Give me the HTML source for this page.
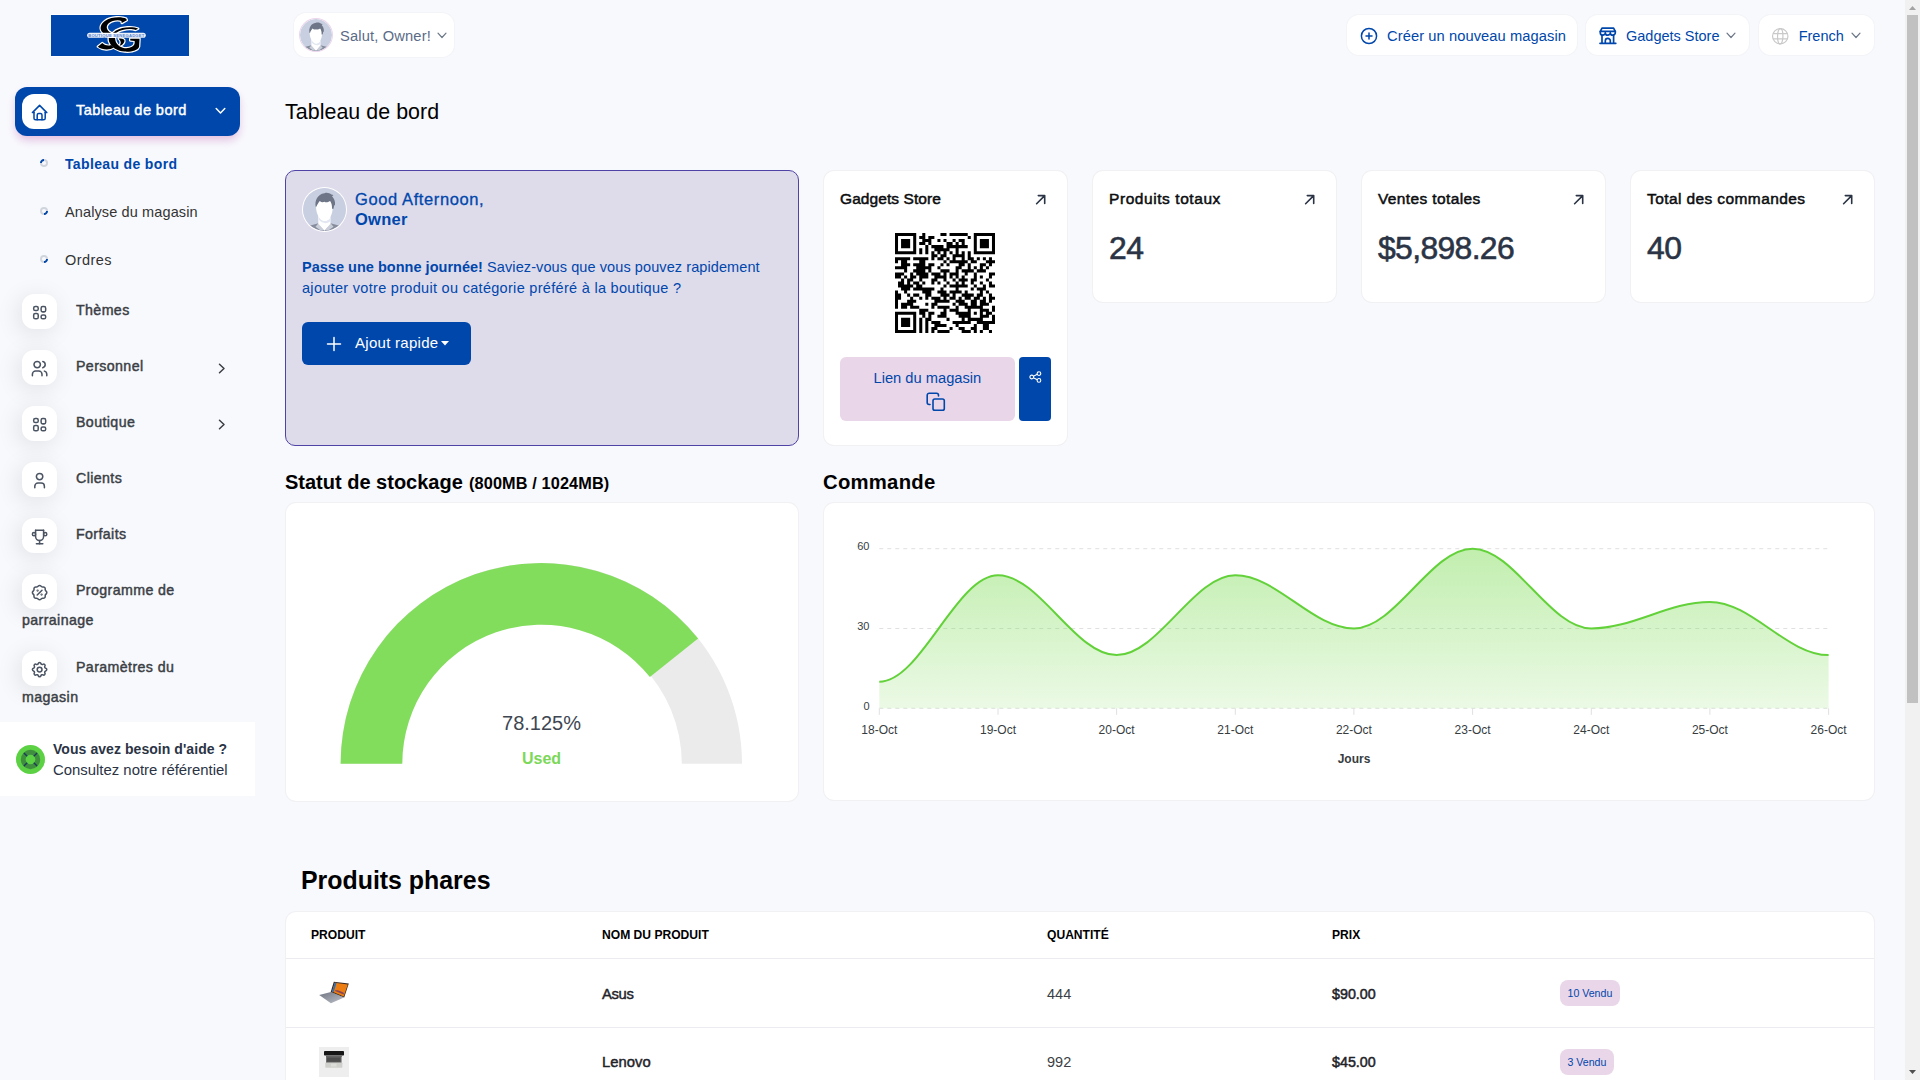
<!DOCTYPE html>
<html lang="fr">
<head>
<meta charset="utf-8">
<title>Tableau de bord</title>
<style>
*{box-sizing:border-box;margin:0;padding:0}
html,body{width:1920px;height:1080px;overflow:hidden}
body{background:#f8f9fd;font-family:"Liberation Sans",sans-serif;color:#333;position:relative}
.abs{position:absolute}
.t{position:absolute;white-space:nowrap;line-height:1}
.card{position:absolute;background:#fff;border-radius:10px;box-shadow:0 0 0 1px #f1f1f4}
.blue{color:#0047ab}
.b{font-weight:700}
/* sidebar */
#logo{left:51px;top:15px;width:138px;height:41px;background:#0047ab}
#navact{left:15px;top:87px;width:225px;height:49px;border-radius:12px;background:#0047ab;box-shadow:0 5px 8px -1px rgba(200,120,190,.45)}
.ib{position:absolute;left:22px;width:35px;height:35px;border-radius:12px;background:#fff;box-shadow:-3px 4px 23px rgba(0,0,0,.1)}
.ib svg{position:absolute;left:8.100px;top:9.200px;width:19.200px;height:19.200px;fill:none;stroke:#4b5463;stroke-width:1.900;stroke-linecap:round;stroke-linejoin:round}
.nav{font-size:14.200px;font-weight:400;letter-spacing:.4px;color:#3b3f45;left:76px;-webkit-text-stroke:.45px #3b3f45;margin-top:1px}
.sub{font-size:14.5px;color:#333;left:65px}
.dot{position:absolute;left:40px;width:8px;height:8px}
#help{left:0;top:722px;width:255px;height:74px;background:#fff}
/* header */
.pill{position:absolute;background:#fff;border-radius:12px;box-shadow:0 0 0 1px rgba(240,240,245,.6)}
/* scrollbar */
#sb{left:1905px;top:0;width:15px;height:1080px;background:#f1f1f1}
#sbt{left:1907px;top:15px;width:11px;height:688px;background:#c1c1c1}
</style>
</head>
<body>

<!-- ============ SIDEBAR ============ -->
<div class="abs" style="left:51px;top:14px;width:138px;height:43px;background:#fff"></div>
<div class="abs" id="logo"></div>
<svg class="abs" style="left:51px;top:15px" width="138" height="41" viewBox="51 15 138 41"><g transform="translate(80 12) scale(.04444)"><g fill="#fff" stroke="#fff" stroke-width="55" stroke-linejoin="round"><path d="M1040 150C950 100 700 100 560 200C440 290 440 400 520 470L700 470C600 420 570 330 640 260C720 190 850 170 930 200L940 250L1055 185Z"/><path d="M1310 375C1200 325 950 330 800 420L740 470L810 470C950 375 1150 365 1250 405Z"/><path d="M1340 600L1330 780C1300 870 1150 900 1000 890C850 880 700 800 650 650L645 585L790 585C790 680 850 780 980 810C1100 830 1220 790 1230 700L1230 650L1130 640L1130 600Z"/><path d="M400 780L500 700C560 760 650 770 700 740L760 800C680 860 500 860 400 780Z"/><path d="M870 600C960 590 1010 620 1000 660C990 710 940 750 890 760C930 700 930 650 870 600Z"/></g><g fill="#000"><path d="M1040 150C950 100 700 100 560 200C440 290 440 400 520 470L700 470C600 420 570 330 640 260C720 190 850 170 930 200L940 250L1055 185Z"/><path d="M1310 375C1200 325 950 330 800 420L740 470L810 470C950 375 1150 365 1250 405Z"/><path d="M1340 600L1330 780C1300 870 1150 900 1000 890C850 880 700 800 650 650L645 585L790 585C790 680 850 780 980 810C1100 830 1220 790 1230 700L1230 650L1130 640L1130 600Z"/><path d="M400 780L500 700C560 760 650 770 700 740L760 800C680 860 500 860 400 780Z"/><path d="M870 600C960 590 1010 620 1000 660C990 710 940 750 890 760C930 700 930 650 870 600Z"/></g><rect x="160" y="468" width="1320" height="114" rx="57" fill="#fff" fill-opacity=".93"/></g><text x="88.200" y="36.900" font-family="Liberation Sans" font-weight="700" font-size="4.200" letter-spacing=".2" fill="#5b86d0">BOUTIQUE SENEGADGET</text></svg>
<div class="abs" id="navact"></div>
<div class="ib" style="top:94px;box-shadow:none"><svg viewBox="0 0 24 24" style="stroke:#0047ab"><path d="M5 12H3l9-9 9 9h-2"/><path d="M5 12v7a2 2 0 0 0 2 2h10a2 2 0 0 0 2-2v-7"/><path d="M9 21v-6a2 2 0 0 1 2-2h2a2 2 0 0 1 2 2v6"/></svg></div>
<span class="t" style="left:76px;top:102.500px;font-size:14.600px;letter-spacing:.4px;color:#fff;-webkit-text-stroke:.45px #fff">Tableau de bord</span>
<svg class="abs" style="left:215px;top:107px" width="11" height="8" viewBox="0 0 11 8" fill="none" stroke="#fff" stroke-width="1.5" stroke-linecap="round" stroke-linejoin="round"><path d="M1.200 1.500 5.500 6 9.800 1.500"/></svg>

<svg class="dot" style="top:159px" viewBox="0 0 8 8" fill="none" stroke-width="1.900"><circle cx="4" cy="4" r="3.050" stroke="#d0d5dd"/><path d="M.95 4A3.050 3.050 0 0 1 4 .95" stroke="#0047ab"/></svg>
<span class="t b sub blue" style="top:157px;font-size:14px;letter-spacing:.35px;color:#0047ab">Tableau de bord</span>
<svg class="dot" style="top:207px" viewBox="0 0 8 8" fill="none" stroke-width="1.900"><circle cx="4" cy="4" r="3.050" stroke="#d0d5dd"/><path d="M7.050 4A3.050 3.050 0 0 1 4 7.050" stroke="#0047ab"/></svg>
<span class="t sub" style="top:205px;letter-spacing:.12px">Analyse du magasin</span>
<svg class="dot" style="top:255px" viewBox="0 0 8 8" fill="none" stroke-width="1.900"><circle cx="4" cy="4" r="3.050" stroke="#d0d5dd"/><path d="M7.050 4A3.050 3.050 0 0 1 4 7.050" stroke="#0047ab"/></svg>
<span class="t sub" style="top:253px;letter-spacing:.45px">Ordres</span>

<div class="ib" style="top:294px"><svg viewBox="0 0 24 24"><rect x="4.600" y="4.500" width="5.700" height="4.900" rx="2"/><rect x="13.900" y="4.500" width="5.700" height="6.600" rx="2"/><rect x="4.600" y="13.100" width="5.700" height="6.600" rx="2"/><rect x="13.900" y="14.900" width="5.700" height="4.800" rx="2"/></svg></div>
<span class="t nav" style="top:302px">Thèmes</span>
<div class="ib" style="top:350px"><svg viewBox="0 0 24 24"><circle cx="9" cy="7" r="4"/><path d="M3 21v-2a4 4 0 0 1 4-4h4a4 4 0 0 1 4 4v2"/><path d="M16 3.130a4 4 0 0 1 0 7.750"/><path d="M21 21v-2a4 4 0 0 0-3-3.850"/></svg></div>
<span class="t nav" style="top:358px">Personnel</span>
<svg class="abs" style="left:218.200px;top:363.200px" width="8" height="11" viewBox="0 0 8 11" fill="none" stroke="#3b3f45" stroke-width="1.500" stroke-linecap="round" stroke-linejoin="round"><path d="M1.500 1.200 6 5.500 1.500 9.800"/></svg>
<div class="ib" style="top:406px"><svg viewBox="0 0 24 24"><rect x="4.600" y="4.500" width="5.700" height="4.900" rx="2"/><rect x="13.900" y="4.500" width="5.700" height="6.600" rx="2"/><rect x="4.600" y="13.100" width="5.700" height="6.600" rx="2"/><rect x="13.900" y="14.900" width="5.700" height="4.800" rx="2"/></svg></div>
<span class="t nav" style="top:414px">Boutique</span>
<svg class="abs" style="left:218.200px;top:419.200px" width="8" height="11" viewBox="0 0 8 11" fill="none" stroke="#3b3f45" stroke-width="1.500" stroke-linecap="round" stroke-linejoin="round"><path d="M1.500 1.200 6 5.500 1.500 9.800"/></svg>
<div class="ib" style="top:462px"><svg viewBox="0 0 24 24"><circle cx="12" cy="7" r="4"/><path d="M6 21v-2a4 4 0 0 1 4-4h4a4 4 0 0 1 4 4v2"/></svg></div>
<span class="t nav" style="top:470px">Clients</span>
<div class="ib" style="top:518px"><svg viewBox="0 0 24 24"><path d="M8 21h8"/><path d="M12 17v4"/><path d="M7 4h10"/><path d="M17 4v8a5 5 0 0 1-10 0V4"/><circle cx="5" cy="9" r="2"/><circle cx="19" cy="9" r="2"/></svg></div>
<span class="t nav" style="top:526px">Forfaits</span>
<div class="ib" style="top:574px"><svg viewBox="0 0 24 24"><path d="M9 15l6-6"/><circle cx="9.500" cy="9.500" r=".5" fill="#4b5463"/><circle cx="14.500" cy="14.500" r=".5" fill="#4b5463"/><path d="M5 7.200a2.200 2.200 0 0 1 2.200-2.200h1a2.200 2.200 0 0 0 1.550-.64l.7-.7a2.200 2.200 0 0 1 3.120 0l.7.7a2.200 2.200 0 0 0 1.550.64h1a2.200 2.200 0 0 1 2.200 2.200v1a2.200 2.200 0 0 0 .64 1.550l.7.7a2.200 2.200 0 0 1 0 3.120l-.7.7a2.200 2.200 0 0 0-.64 1.550v1a2.200 2.200 0 0 1-2.200 2.200h-1a2.200 2.200 0 0 0-1.550.64l-.7.7a2.200 2.200 0 0 1-3.120 0l-.7-.7a2.200 2.200 0 0 0-1.550-.64h-1a2.200 2.200 0 0 1-2.200-2.200v-1a2.200 2.200 0 0 0-.64-1.550l-.7-.7a2.200 2.200 0 0 1 0-3.120l.7-.7a2.200 2.200 0 0 0 .64-1.550z"/></svg></div>
<span class="t nav" style="top:582px">Programme de</span>
<span class="t nav" style="top:612px;left:22px">parrainage</span>
<div class="ib" style="top:651px"><svg viewBox="0 0 24 24"><path d="M10.325 4.317c.426-1.756 2.924-1.756 3.350 0a1.724 1.724 0 0 0 2.573 1.066c1.543-.94 3.310.826 2.370 2.370a1.724 1.724 0 0 0 1.065 2.572c1.756.426 1.756 2.924 0 3.350a1.724 1.724 0 0 0-1.066 2.573c.94 1.543-.826 3.310-2.370 2.370a1.724 1.724 0 0 0-2.572 1.065c-.426 1.756-2.924 1.756-3.350 0a1.724 1.724 0 0 0-2.573-1.066c-1.543.94-3.310-.826-2.370-2.370a1.724 1.724 0 0 0-1.065-2.572c-1.756-.426-1.756-2.924 0-3.350a1.724 1.724 0 0 0 1.066-2.573c-.94-1.543.826-3.310 2.370-2.370 1 .608 2.296.07 2.572-1.065z"/><circle cx="12" cy="12" r="3"/></svg></div>
<span class="t nav" style="top:659px">Paramètres du</span>
<span class="t nav" style="top:689px;left:22px">magasin</span>

<div class="abs" id="help"></div>
<svg class="abs" style="left:16px;top:744.500px" width="29" height="29" viewBox="0 0 30 30"><circle cx="15" cy="15" r="15" fill="#5bd143"/><circle cx="15" cy="15" r="10" fill="#3f8f3f"/><circle cx="15" cy="15" r="5" fill="#5bd143"/><path d="M8.200 8.200l3.400 3.400M21.800 8.200l-3.400 3.400M8.200 21.800l3.400-3.400M21.800 21.800l-3.400-3.400" stroke="#1d3a5c" stroke-width="1.400"/></svg>
<span class="t b" style="left:53px;top:742px;font-size:14px;letter-spacing:.06px;color:#2b3445">Vous avez besoin d'aide ?</span>
<span class="t" style="left:53px;top:762.500px;font-size:14.900px;color:#2b3445">Consultez notre référentiel</span>

<!-- ============ HEADER ============ -->
<div class="pill" style="left:294px;top:13px;width:160px;height:44px"></div>
<svg class="abs" style="left:300px;top:19px;border-radius:50%;box-shadow:0 0 0 1px #ecd5ec" width="32" height="32"><use href="#av"/></svg>
<span class="t" style="left:340px;top:29px;font-size:14.700px;letter-spacing:.15px;color:#5b6b86">Salut, Owner!</span>
<svg class="abs" style="left:437px;top:32px" width="10" height="7" viewBox="0 0 10 7" fill="none" stroke="#6b7686" stroke-width="1.200" stroke-linecap="round" stroke-linejoin="round"><path d="M1 1.200 5 5.500 9 1.200"/></svg>

<div class="pill" style="left:1347px;top:15px;width:230px;height:40px"></div>
<svg class="abs" style="left:1360px;top:27px" width="18" height="18" viewBox="0 0 18 18" fill="none" stroke="#0047ab" stroke-width="1.500" stroke-linecap="round"><circle cx="9" cy="9" r="7.600"/><path d="M9 6v6M6 9h6"/></svg>
<span class="t blue" style="left:1387px;top:29px;font-size:14.700px;letter-spacing:.08px">Créer un nouveau magasin</span>

<div class="pill" style="left:1586px;top:15px;width:163px;height:40px"></div>
<svg class="abs" style="left:1598px;top:26px" width="20" height="20" viewBox="1598 26 20 20" fill="none" stroke="#0047ab" stroke-width="1.700" stroke-linejoin="round" stroke-linecap="round"><path d="M1602 28.200h11.600l1.700 3.200h-15z"/><path d="M1600.300 31.400v1.300a2.500 2.500 0 0 0 5 0 2.500 2.500 0 0 0 5 0 2.500 2.500 0 0 0 5 0v-1.300"/><path d="M1602 35.200v8M1613.600 35.200v8"/><path d="M1605.300 43.200v-2.400a2.500 2.500 0 0 1 5 0v2.400"/><path d="M1600 43.300h15.800"/></svg>
<span class="t blue" style="left:1626px;top:29px;font-size:14.500px">Gadgets Store</span>
<svg class="abs" style="left:1726px;top:32px" width="10" height="7" viewBox="0 0 10 7" fill="none" stroke="#6b7686" stroke-width="1.200" stroke-linecap="round" stroke-linejoin="round"><path d="M1 1.200 5 5.500 9 1.200"/></svg>

<div class="pill" style="left:1759px;top:15px;width:115px;height:40px"></div>
<svg class="abs" style="left:1771px;top:26.500px" width="18.500" height="18.500" viewBox="-9.250 -9.250 18.500 18.500" fill="none" stroke="#c9c9c9" stroke-width="1.200"><circle r="7.700"/><ellipse rx="2.700" ry="7.700"/><path d="M-7.200-2.700h14.400M-7.200 2.700h14.400"/></svg>
<span class="t blue" style="left:1798.700px;top:29px;font-size:14.500px">French</span>
<svg class="abs" style="left:1851px;top:32px" width="10" height="7" viewBox="0 0 10 7" fill="none" stroke="#6b7686" stroke-width="1.200" stroke-linecap="round" stroke-linejoin="round"><path d="M1 1.200 5 5.500 9 1.200"/></svg>

<span class="t" style="left:285px;top:102px;font-size:21.400px;letter-spacing:.05px;color:#000">Tableau de bord</span>

<!-- ============ MAIN PLACEHOLDER ============ -->
<!--MAINSTART-->
<svg width="0" height="0" style="position:absolute"><defs>
<symbol id="av" viewBox="0 0 100 100">
<clipPath id="avc"><circle cx="50" cy="50" r="50"/></clipPath>
<g clip-path="url(#avc)">
<rect width="100" height="100" fill="#c8cfe0"/>
<path d="M17 87L36 82 50 99 64 82 83 87 92 100H8z" fill="#878d9d"/>
<path d="M29 90L36 82 48.500 98 42 99.500zM71 90L64 82 51.500 98 58 99.500z" fill="#c9ced9"/>
<path d="M35.600 60H63.900V83L50 99.500 35.600 83z" fill="#fff"/>
<path d="M37 66C44 78 56 80 63.900 69V77C56 85 44 82 37 74z" fill="#e3e7f1"/>
<path d="M31 32C29 45 31 55 34 62 38 72 45 77 50 77S62 72 66 62C69 55 70 45 68 32 60 26 40 26 31 32z" fill="#fff"/>
<path d="M29.500 43.500C27 30 33 14 50 12 56 10 62 12 66 15L71 16 67.500 19C72 24 75.500 30 74.500 40L72.500 40 71 48 67.500 48.500C68 40 66 34 63 30 58 33.500 53 34 50 32 46 34 42 33 39 30 36 34 33 38 31.500 43z" fill="#6e7587"/>
</g></symbol></defs></svg>
<div class="abs" style="left:285px;top:170px;width:514px;height:276px;background:#dedbeb;border:1px solid #4f44a5;border-radius:10px"></div>
<svg class="abs" style="left:303px;top:188px;border-radius:50%;box-shadow:0 0 0 1px #fff" width="43" height="43"><use href="#av"/></svg>
<span class="t blue" style="left:355px;top:191px;font-size:16.500px;letter-spacing:.6px;-webkit-text-stroke:.3px #0047ab">Good Afternoon,</span>
<span class="t blue b" style="left:355px;top:211px;font-size:16.500px;letter-spacing:.25px">Owner</span>
<span class="t blue" style="left:302px;top:260px;font-size:14.500px;letter-spacing:.09px"><b style="letter-spacing:.02px">Passe une bonne journée!</b> Saviez-vous que vous pouvez rapidement</span>
<span class="t blue" style="left:302px;top:281px;font-size:14.500px;letter-spacing:.3px">ajouter votre produit ou catégorie préféré à la boutique ?</span>
<div class="abs" style="left:302px;top:322px;width:169px;height:43px;border-radius:6px;background:#0047ab"></div>
<svg class="abs" style="left:326px;top:336px" width="16" height="16" viewBox="0 0 16 16" stroke="#fff" stroke-width="1.500" stroke-linecap="round"><path d="M8 1.500v13M1.500 8h13"/></svg>
<span class="t" style="left:355px;top:335px;font-size:15px;letter-spacing:.28px;color:#fff">Ajout rapide</span>
<svg class="abs" style="left:441px;top:341px" width="8" height="5" viewBox="0 0 8 5"><path d="M0 0h8L4 4.500z" fill="#fff"/></svg>
<div class="card" style="left:824px;top:171px;width:243px;height:274px"></div>
<span class="t sb" style="left:840px;top:190.500px;font-size:15.500px;letter-spacing:.08px;color:#0b0d10;-webkit-text-stroke:.5px #0b0d10">Gadgets Store</span>
<svg class="abs" style="left:1035.2px;top:193.600px" width="12" height="12" viewBox="0 0 12 12" fill="none" stroke="#2b3445" stroke-width="1.600" stroke-linecap="round" stroke-linejoin="round"><path d="M1.600 9.700 9.700 1.600M3.300 1.600H9.700V9.400"/></svg>
<svg class="abs" style="left:895px;top:233px" width="100" height="100" viewBox="0 0 100 100" shape-rendering="auto"><path d="M0.00 0.00h21.21v3.03h-21.21zM27.27 0.00h3.03v3.03h-3.03zM45.45 0.00h6.06v3.03h-6.06zM54.55 0.00h18.18v3.03h-18.18zM78.79 0.00h21.21v3.03h-21.21zM0.00 3.03h3.03v3.03h-3.03zM18.18 3.03h3.03v3.03h-3.03zM24.24 3.03h6.06v3.03h-6.06zM33.33 3.03h6.06v3.03h-6.06zM72.73 3.03h3.03v3.03h-3.03zM78.79 3.03h3.03v3.03h-3.03zM96.97 3.03h3.03v3.03h-3.03zM0.00 6.06h3.03v3.03h-3.03zM6.06 6.06h9.09v3.03h-9.09zM18.18 6.06h3.03v3.03h-3.03zM27.27 6.06h9.09v3.03h-9.09zM42.42 6.06h3.03v3.03h-3.03zM48.48 6.06h3.03v3.03h-3.03zM57.58 6.06h3.03v3.03h-3.03zM63.64 6.06h6.06v3.03h-6.06zM78.79 6.06h3.03v3.03h-3.03zM84.85 6.06h9.09v3.03h-9.09zM96.97 6.06h3.03v3.03h-3.03zM0.00 9.09h3.03v3.03h-3.03zM6.06 9.09h9.09v3.03h-9.09zM18.18 9.09h3.03v3.03h-3.03zM24.24 9.09h6.06v3.03h-6.06zM33.33 9.09h3.03v3.03h-3.03zM51.52 9.09h6.06v3.03h-6.06zM60.61 9.09h3.03v3.03h-3.03zM66.67 9.09h3.03v3.03h-3.03zM78.79 9.09h3.03v3.03h-3.03zM84.85 9.09h9.09v3.03h-9.09zM96.97 9.09h3.03v3.03h-3.03zM0.00 12.12h3.03v3.03h-3.03zM6.06 12.12h9.09v3.03h-9.09zM18.18 12.12h3.03v3.03h-3.03zM30.30 12.12h3.03v3.03h-3.03zM36.36 12.12h12.12v3.03h-12.12zM51.52 12.12h21.21v3.03h-21.21zM78.79 12.12h3.03v3.03h-3.03zM84.85 12.12h9.09v3.03h-9.09zM96.97 12.12h3.03v3.03h-3.03zM0.00 15.15h3.03v3.03h-3.03zM18.18 15.15h3.03v3.03h-3.03zM24.24 15.15h3.03v3.03h-3.03zM30.30 15.15h3.03v3.03h-3.03zM39.39 15.15h15.15v3.03h-15.15zM60.61 15.15h3.03v3.03h-3.03zM78.79 15.15h3.03v3.03h-3.03zM96.97 15.15h3.03v3.03h-3.03zM0.00 18.18h21.21v3.03h-21.21zM24.24 18.18h3.03v3.03h-3.03zM30.30 18.18h3.03v3.03h-3.03zM36.36 18.18h3.03v3.03h-3.03zM42.42 18.18h3.03v3.03h-3.03zM48.48 18.18h3.03v3.03h-3.03zM54.55 18.18h3.03v3.03h-3.03zM60.61 18.18h3.03v3.03h-3.03zM66.67 18.18h3.03v3.03h-3.03zM72.73 18.18h3.03v3.03h-3.03zM78.79 18.18h21.21v3.03h-21.21zM36.36 21.21h6.06v3.03h-6.06zM45.45 21.21h6.06v3.03h-6.06zM57.58 21.21h12.12v3.03h-12.12zM72.73 21.21h3.03v3.03h-3.03zM0.00 24.24h15.15v3.03h-15.15zM18.18 24.24h15.15v3.03h-15.15zM36.36 24.24h3.03v3.03h-3.03zM42.42 24.24h6.06v3.03h-6.06zM51.52 24.24h3.03v3.03h-3.03zM57.58 24.24h3.03v3.03h-3.03zM66.67 24.24h3.03v3.03h-3.03zM72.73 24.24h6.06v3.03h-6.06zM81.82 24.24h3.03v3.03h-3.03zM87.88 24.24h3.03v3.03h-3.03zM93.94 24.24h3.03v3.03h-3.03zM0.00 27.27h3.03v3.03h-3.03zM6.06 27.27h6.06v3.03h-6.06zM24.24 27.27h6.06v3.03h-6.06zM48.48 27.27h3.03v3.03h-3.03zM54.55 27.27h18.18v3.03h-18.18zM75.76 27.27h6.06v3.03h-6.06zM90.91 27.27h9.09v3.03h-9.09zM6.06 30.30h9.09v3.03h-9.09zM18.18 30.30h12.12v3.03h-12.12zM33.33 30.30h6.06v3.03h-6.06zM45.45 30.30h3.03v3.03h-3.03zM51.52 30.30h3.03v3.03h-3.03zM63.64 30.30h6.06v3.03h-6.06zM72.73 30.30h3.03v3.03h-3.03zM84.85 30.30h6.06v3.03h-6.06zM93.94 30.30h3.03v3.03h-3.03zM0.00 33.33h12.12v3.03h-12.12zM21.21 33.33h15.15v3.03h-15.15zM42.42 33.33h3.03v3.03h-3.03zM60.61 33.33h6.06v3.03h-6.06zM72.73 33.33h3.03v3.03h-3.03zM78.79 33.33h3.03v3.03h-3.03zM84.85 33.33h3.03v3.03h-3.03zM90.91 33.33h3.03v3.03h-3.03zM9.09 36.36h3.03v3.03h-3.03zM18.18 36.36h12.12v3.03h-12.12zM33.33 36.36h3.03v3.03h-3.03zM45.45 36.36h9.09v3.03h-9.09zM60.61 36.36h3.03v3.03h-3.03zM66.67 36.36h12.12v3.03h-12.12zM81.82 36.36h9.09v3.03h-9.09zM0.00 39.39h9.09v3.03h-9.09zM15.15 39.39h3.03v3.03h-3.03zM21.21 39.39h12.12v3.03h-12.12zM36.36 39.39h9.09v3.03h-9.09zM48.48 39.39h3.03v3.03h-3.03zM54.55 39.39h9.09v3.03h-9.09zM69.70 39.39h3.03v3.03h-3.03zM78.79 39.39h3.03v3.03h-3.03zM93.94 39.39h6.06v3.03h-6.06zM0.00 42.42h6.06v3.03h-6.06zM9.09 42.42h3.03v3.03h-3.03zM15.15 42.42h6.06v3.03h-6.06zM24.24 42.42h9.09v3.03h-9.09zM39.39 42.42h12.12v3.03h-12.12zM54.55 42.42h3.03v3.03h-3.03zM60.61 42.42h3.03v3.03h-3.03zM66.67 42.42h3.03v3.03h-3.03zM78.79 42.42h3.03v3.03h-3.03zM84.85 42.42h3.03v3.03h-3.03zM93.94 42.42h3.03v3.03h-3.03zM6.06 45.45h3.03v3.03h-3.03zM12.12 45.45h6.06v3.03h-6.06zM24.24 45.45h3.03v3.03h-3.03zM36.36 45.45h6.06v3.03h-6.06zM48.48 45.45h3.03v3.03h-3.03zM57.58 45.45h3.03v3.03h-3.03zM63.64 45.45h9.09v3.03h-9.09zM75.76 45.45h6.06v3.03h-6.06zM90.91 45.45h3.03v3.03h-3.03zM3.03 48.48h6.06v3.03h-6.06zM12.12 48.48h3.03v3.03h-3.03zM18.18 48.48h6.06v3.03h-6.06zM27.27 48.48h3.03v3.03h-3.03zM36.36 48.48h3.03v3.03h-3.03zM42.42 48.48h3.03v3.03h-3.03zM51.52 48.48h3.03v3.03h-3.03zM60.61 48.48h3.03v3.03h-3.03zM66.67 48.48h3.03v3.03h-3.03zM75.76 48.48h3.03v3.03h-3.03zM84.85 48.48h3.03v3.03h-3.03zM93.94 48.48h3.03v3.03h-3.03zM3.03 51.52h15.15v3.03h-15.15zM21.21 51.52h6.06v3.03h-6.06zM48.48 51.52h3.03v3.03h-3.03zM54.55 51.52h18.18v3.03h-18.18zM78.79 51.52h3.03v3.03h-3.03zM87.88 51.52h3.03v3.03h-3.03zM93.94 51.52h6.06v3.03h-6.06zM6.06 54.55h9.09v3.03h-9.09zM18.18 54.55h21.21v3.03h-21.21zM45.45 54.55h3.03v3.03h-3.03zM60.61 54.55h3.03v3.03h-3.03zM75.76 54.55h3.03v3.03h-3.03zM81.82 54.55h9.09v3.03h-9.09zM0.00 57.58h3.03v3.03h-3.03zM9.09 57.58h3.03v3.03h-3.03zM27.27 57.58h9.09v3.03h-9.09zM42.42 57.58h9.09v3.03h-9.09zM54.55 57.58h12.12v3.03h-12.12zM69.70 57.58h3.03v3.03h-3.03zM84.85 57.58h3.03v3.03h-3.03zM90.91 57.58h3.03v3.03h-3.03zM0.00 60.61h6.06v3.03h-6.06zM12.12 60.61h3.03v3.03h-3.03zM18.18 60.61h6.06v3.03h-6.06zM30.30 60.61h6.06v3.03h-6.06zM45.45 60.61h9.09v3.03h-9.09zM57.58 60.61h3.03v3.03h-3.03zM66.67 60.61h12.12v3.03h-12.12zM81.82 60.61h6.06v3.03h-6.06zM93.94 60.61h3.03v3.03h-3.03zM0.00 63.64h6.06v3.03h-6.06zM15.15 63.64h3.03v3.03h-3.03zM24.24 63.64h3.03v3.03h-3.03zM30.30 63.64h3.03v3.03h-3.03zM36.36 63.64h9.09v3.03h-9.09zM48.48 63.64h3.03v3.03h-3.03zM54.55 63.64h6.06v3.03h-6.06zM63.64 63.64h3.03v3.03h-3.03zM69.70 63.64h6.06v3.03h-6.06zM78.79 63.64h6.06v3.03h-6.06zM87.88 63.64h3.03v3.03h-3.03zM93.94 63.64h6.06v3.03h-6.06zM0.00 66.67h3.03v3.03h-3.03zM12.12 66.67h9.09v3.03h-9.09zM39.39 66.67h15.15v3.03h-15.15zM60.61 66.67h9.09v3.03h-9.09zM75.76 66.67h6.06v3.03h-6.06zM84.85 66.67h6.06v3.03h-6.06zM93.94 66.67h3.03v3.03h-3.03zM0.00 69.70h3.03v3.03h-3.03zM6.06 69.70h12.12v3.03h-12.12zM30.30 69.70h3.03v3.03h-3.03zM36.36 69.70h6.06v3.03h-6.06zM57.58 69.70h3.03v3.03h-3.03zM63.64 69.70h9.09v3.03h-9.09zM75.76 69.70h6.06v3.03h-6.06zM84.85 69.70h9.09v3.03h-9.09zM0.00 72.73h3.03v3.03h-3.03zM6.06 72.73h6.06v3.03h-6.06zM15.15 72.73h9.09v3.03h-9.09zM36.36 72.73h3.03v3.03h-3.03zM42.42 72.73h12.12v3.03h-12.12zM60.61 72.73h3.03v3.03h-3.03zM69.70 72.73h18.18v3.03h-18.18zM96.97 72.73h3.03v3.03h-3.03zM24.24 75.76h9.09v3.03h-9.09zM48.48 75.76h3.03v3.03h-3.03zM54.55 75.76h9.09v3.03h-9.09zM72.73 75.76h3.03v3.03h-3.03zM84.85 75.76h9.09v3.03h-9.09zM96.97 75.76h3.03v3.03h-3.03zM0.00 78.79h21.21v3.03h-21.21zM24.24 78.79h6.06v3.03h-6.06zM33.33 78.79h6.06v3.03h-6.06zM45.45 78.79h6.06v3.03h-6.06zM60.61 78.79h15.15v3.03h-15.15zM78.79 78.79h3.03v3.03h-3.03zM84.85 78.79h3.03v3.03h-3.03zM90.91 78.79h6.06v3.03h-6.06zM0.00 81.82h3.03v3.03h-3.03zM18.18 81.82h3.03v3.03h-3.03zM27.27 81.82h3.03v3.03h-3.03zM33.33 81.82h3.03v3.03h-3.03zM42.42 81.82h9.09v3.03h-9.09zM63.64 81.82h12.12v3.03h-12.12zM84.85 81.82h9.09v3.03h-9.09zM96.97 81.82h3.03v3.03h-3.03zM0.00 84.85h3.03v3.03h-3.03zM6.06 84.85h9.09v3.03h-9.09zM18.18 84.85h3.03v3.03h-3.03zM24.24 84.85h3.03v3.03h-3.03zM30.30 84.85h6.06v3.03h-6.06zM51.52 84.85h3.03v3.03h-3.03zM66.67 84.85h3.03v3.03h-3.03zM72.73 84.85h15.15v3.03h-15.15zM96.97 84.85h3.03v3.03h-3.03zM0.00 87.88h3.03v3.03h-3.03zM6.06 87.88h9.09v3.03h-9.09zM18.18 87.88h3.03v3.03h-3.03zM24.24 87.88h3.03v3.03h-3.03zM30.30 87.88h3.03v3.03h-3.03zM36.36 87.88h9.09v3.03h-9.09zM57.58 87.88h18.18v3.03h-18.18zM81.82 87.88h18.18v3.03h-18.18zM0.00 90.91h3.03v3.03h-3.03zM6.06 90.91h9.09v3.03h-9.09zM18.18 90.91h3.03v3.03h-3.03zM24.24 90.91h3.03v3.03h-3.03zM30.30 90.91h3.03v3.03h-3.03zM39.39 90.91h12.12v3.03h-12.12zM60.61 90.91h3.03v3.03h-3.03zM78.79 90.91h3.03v3.03h-3.03zM87.88 90.91h6.06v3.03h-6.06zM0.00 93.94h3.03v3.03h-3.03zM18.18 93.94h3.03v3.03h-3.03zM24.24 93.94h3.03v3.03h-3.03zM30.30 93.94h3.03v3.03h-3.03zM36.36 93.94h6.06v3.03h-6.06zM54.55 93.94h3.03v3.03h-3.03zM63.64 93.94h6.06v3.03h-6.06zM75.76 93.94h6.06v3.03h-6.06zM87.88 93.94h6.06v3.03h-6.06zM0.00 96.97h21.21v3.03h-21.21zM24.24 96.97h3.03v3.03h-3.03zM30.30 96.97h3.03v3.03h-3.03zM36.36 96.97h3.03v3.03h-3.03zM42.42 96.97h12.12v3.03h-12.12zM66.67 96.97h9.09v3.03h-9.09zM78.79 96.97h3.03v3.03h-3.03zM84.85 96.97h3.03v3.03h-3.03zM93.94 96.97h3.03v3.03h-3.03z" fill="#000"/></svg>
<div class="abs" style="left:840px;top:357px;width:175px;height:64px;border-radius:6px;background:#e9d6e8"></div>
<span class="t blue" style="left:873.500px;top:371px;font-size:14.700px">Lien du magasin</span>
<svg class="abs" style="left:925.500px;top:391.500px" width="20" height="20" viewBox="0 0 20 20" fill="none" stroke="#0047ab" stroke-width="1.600" stroke-linejoin="round" stroke-linecap="round"><rect x="7" y="7" width="11.300" height="11.300" rx="1.800"/><path d="M4 12.500H3.200a2 2 0 0 1-2-2V3.200a2 2 0 0 1 2-2H10.500a2 2 0 0 1 2 2V4"/></svg>
<div class="abs" style="left:1019px;top:357px;width:32px;height:64px;border-radius:4px;background:#0047ab"></div>
<svg class="abs" style="left:1028.700px;top:370.600px" width="12.900" height="12" viewBox="0 0 14 13" fill="none" stroke="#fff" stroke-width="1.200"><circle cx="3" cy="6.500" r="2"/><circle cx="10.800" cy="2.800" r="2"/><circle cx="10.800" cy="10.200" r="2"/><path d="M4.800 5.600l4.200-2M4.800 7.400l4.200 2"/></svg>
<div class="card" style="left:1093px;top:171px;width:243px;height:131px"></div>
<span class="t" style="left:1109px;top:190.500px;font-size:15.500px;letter-spacing:0.57px;color:#0b0d10;-webkit-text-stroke:.5px #0b0d10">Produits totaux</span>
<svg class="abs" style="left:1304.3px;top:193.600px" width="12" height="12" viewBox="0 0 12 12" fill="none" stroke="#2b3445" stroke-width="1.600" stroke-linecap="round" stroke-linejoin="round"><path d="M1.600 9.700 9.700 1.600M3.300 1.600H9.700V9.400"/></svg>
<span class="t" style="left:1109px;top:232.500px;font-size:31.900px;letter-spacing:-0.5px;color:#2b3445;-webkit-text-stroke:.6px #2b3445">24</span>
<div class="card" style="left:1362px;top:171px;width:243px;height:131px"></div>
<span class="t" style="left:1378px;top:190.500px;font-size:15.500px;letter-spacing:0.38px;color:#0b0d10;-webkit-text-stroke:.5px #0b0d10">Ventes totales</span>
<svg class="abs" style="left:1573.3px;top:193.600px" width="12" height="12" viewBox="0 0 12 12" fill="none" stroke="#2b3445" stroke-width="1.600" stroke-linecap="round" stroke-linejoin="round"><path d="M1.600 9.700 9.700 1.600M3.300 1.600H9.700V9.400"/></svg>
<span class="t" style="left:1378px;top:232.500px;font-size:31.900px;letter-spacing:-0.65px;color:#2b3445;-webkit-text-stroke:.6px #2b3445">$5,898.26</span>
<div class="card" style="left:1631px;top:171px;width:243px;height:131px"></div>
<span class="t" style="left:1647px;top:190.500px;font-size:15.500px;letter-spacing:0.4px;color:#0b0d10;-webkit-text-stroke:.5px #0b0d10">Total des commandes</span>
<svg class="abs" style="left:1842.3px;top:193.600px" width="12" height="12" viewBox="0 0 12 12" fill="none" stroke="#2b3445" stroke-width="1.600" stroke-linecap="round" stroke-linejoin="round"><path d="M1.600 9.700 9.700 1.600M3.300 1.600H9.700V9.400"/></svg>
<span class="t" style="left:1647px;top:232.500px;font-size:31.900px;letter-spacing:-0.5px;color:#2b3445;-webkit-text-stroke:.6px #2b3445">40</span>
<span class="t b" style="left:285px;top:472px;font-size:20px;color:#000">Statut de stockage</span>
<span class="t b" style="left:469px;top:475px;font-size:16.300px;letter-spacing:.12px;color:#000">(800MB / 1024MB)</span>
<div class="card" style="left:286px;top:503px;width:512px;height:298px"></div>
<div class="card" style="left:824px;top:503px;width:1050px;height:297px"></div>
<span class="t b" style="left:823px;top:472px;font-size:20.300px;letter-spacing:.25px;color:#000">Commande</span>
<svg class="abs" style="left:0;top:0" width="1920" height="1080" viewBox="0 0 1920 1080">
<path d="M340.6 763.7A200.7 200.7 0 0 1 742.0 763.7L681.8 763.7A140.5 140.5 0 0 0 400.8 763.7Z" fill="#ebebeb"/>
<path d="M340.6 763.7A200.7 200.7 0 0 1 698.1 638.5L649.9 677.0A139 139 0 0 0 402.3 763.7Z" fill="#83dd5d"/>
<text x="541.500" y="730" text-anchor="middle" font-family="Liberation Sans" font-size="20" fill="#3e4652">78.125%</text>
<text x="541.500" y="764" text-anchor="middle" font-family="Liberation Sans" font-size="16" font-weight="700" fill="#7bd858">Used</text>
<defs><linearGradient id="ag" x1="0" y1="548" x2="0" y2="708" gradientUnits="userSpaceOnUse"><stop offset="0" stop-color="#83dd5d" stop-opacity=".5"/><stop offset="1" stop-color="#83dd5d" stop-opacity=".16"/></linearGradient></defs>
<path d="M879.3 548.7H1828.6" stroke="#e0e0e0" stroke-width="1" stroke-dasharray="4 4" fill="none"/>
<path d="M879.3 628.5H1828.6" stroke="#e0e0e0" stroke-width="1" stroke-dasharray="4 4" fill="none"/>
<path d="M879.3 708.3H1828.6" stroke="#e0e0e0" stroke-width="1" stroke-dasharray="4 4" fill="none"/>
<path d="M879.3 681.7C920.8 681.7 956.4 575.3 998.0 575.3C1039.5 575.3 1075.1 655.1 1116.6 655.1C1158.2 655.1 1193.8 575.3 1235.3 575.3C1276.8 575.3 1312.4 628.5 1353.9 628.5C1395.5 628.5 1431.1 548.7 1472.6 548.7C1514.1 548.7 1549.7 628.5 1591.3 628.5C1632.8 628.5 1668.4 601.9 1709.9 601.9C1751.5 601.9 1787.1 655.1 1828.6 655.1L1828.6 708.3L879.3 708.3Z" fill="url(#ag)"/>
<path d="M879.3 681.7C920.8 681.7 956.4 575.3 998.0 575.3C1039.5 575.3 1075.1 655.1 1116.6 655.1C1158.2 655.1 1193.8 575.3 1235.3 575.3C1276.8 575.3 1312.4 628.5 1353.9 628.5C1395.5 628.5 1431.1 548.7 1472.6 548.7C1514.1 548.7 1549.7 628.5 1591.3 628.5C1632.8 628.5 1668.4 601.9 1709.9 601.9C1751.5 601.9 1787.1 655.1 1828.6 655.1" fill="none" stroke="#63d13a" stroke-width="2" stroke-linecap="butt"/>
<path d="M879.3 708.3v6.500" stroke="#e0e0e0" stroke-width="1"/>
<text x="879.3" y="733.500" text-anchor="middle" font-family="Liberation Sans" font-size="12" fill="#373d3f">18-Oct</text>
<path d="M998.0 708.3v6.500" stroke="#e0e0e0" stroke-width="1"/>
<text x="998.0" y="733.500" text-anchor="middle" font-family="Liberation Sans" font-size="12" fill="#373d3f">19-Oct</text>
<path d="M1116.6 708.3v6.500" stroke="#e0e0e0" stroke-width="1"/>
<text x="1116.6" y="733.500" text-anchor="middle" font-family="Liberation Sans" font-size="12" fill="#373d3f">20-Oct</text>
<path d="M1235.3 708.3v6.500" stroke="#e0e0e0" stroke-width="1"/>
<text x="1235.3" y="733.500" text-anchor="middle" font-family="Liberation Sans" font-size="12" fill="#373d3f">21-Oct</text>
<path d="M1353.9 708.3v6.500" stroke="#e0e0e0" stroke-width="1"/>
<text x="1353.9" y="733.500" text-anchor="middle" font-family="Liberation Sans" font-size="12" fill="#373d3f">22-Oct</text>
<path d="M1472.6 708.3v6.500" stroke="#e0e0e0" stroke-width="1"/>
<text x="1472.6" y="733.500" text-anchor="middle" font-family="Liberation Sans" font-size="12" fill="#373d3f">23-Oct</text>
<path d="M1591.3 708.3v6.500" stroke="#e0e0e0" stroke-width="1"/>
<text x="1591.3" y="733.500" text-anchor="middle" font-family="Liberation Sans" font-size="12" fill="#373d3f">24-Oct</text>
<path d="M1709.9 708.3v6.500" stroke="#e0e0e0" stroke-width="1"/>
<text x="1709.9" y="733.500" text-anchor="middle" font-family="Liberation Sans" font-size="12" fill="#373d3f">25-Oct</text>
<path d="M1828.6 708.3v6.500" stroke="#e0e0e0" stroke-width="1"/>
<text x="1828.6" y="733.500" text-anchor="middle" font-family="Liberation Sans" font-size="12" fill="#373d3f">26-Oct</text>
<text x="869.500" y="550.2" text-anchor="end" font-family="Liberation Sans" font-size="11" fill="#373d3f">60</text>
<text x="869.500" y="630.0" text-anchor="end" font-family="Liberation Sans" font-size="11" fill="#373d3f">30</text>
<text x="869.500" y="709.8" text-anchor="end" font-family="Liberation Sans" font-size="11" fill="#373d3f">0</text>
<text x="1354" y="763" text-anchor="middle" font-family="Liberation Sans" font-size="12" font-weight="700" fill="#373d3f">Jours</text>
</svg>
<span class="t b" style="left:301px;top:868px;font-size:24.900px;color:#000">Produits phares</span>
<div class="card" style="left:286px;top:912px;width:1588px;height:200px;border-radius:10px 10px 0 0"></div>
<div class="abs" style="left:286px;top:958px;width:1588px;height:1px;background:#ececf0"></div>
<div class="abs" style="left:286px;top:1027px;width:1588px;height:1px;background:#ececf0"></div>
<span class="t b" style="left:311px;top:929px;font-size:12.100px;color:#000">PRODUIT</span>
<span class="t b" style="left:602px;top:929px;font-size:12.100px;color:#000">NOM DU PRODUIT</span>
<span class="t b" style="left:1047px;top:929px;font-size:12.100px;color:#000">QUANTITÉ</span>
<span class="t b" style="left:1332px;top:929px;font-size:12.100px;color:#000">PRIX</span>
<span class="t" style="left:602px;top:986.5px;font-size:14.800px;letter-spacing:-0.35px;color:#1f2329;-webkit-text-stroke:.45px #1f2329">Asus</span>
<span class="t" style="left:1047px;top:986.5px;font-size:14.500px;color:#3b3f45">444</span>
<span class="t" style="left:1332px;top:986.5px;font-size:14.300px;color:#1f2329;-webkit-text-stroke:.5px #1f2329">$90.00</span>
<div class="abs" style="left:1560px;top:980px;width:60px;height:26px;border-radius:8px;background:#e9d6e8"></div>
<span class="t blue" style="left:1567.500px;top:988px;font-size:10.600px">10 Vendu</span>
<span class="t" style="left:602px;top:1055.0px;font-size:14.800px;letter-spacing:0.05px;color:#1f2329;-webkit-text-stroke:.45px #1f2329">Lenovo</span>
<span class="t" style="left:1047px;top:1055.0px;font-size:14.500px;color:#3b3f45">992</span>
<span class="t" style="left:1332px;top:1055.0px;font-size:14.300px;color:#1f2329;-webkit-text-stroke:.5px #1f2329">$45.00</span>
<div class="abs" style="left:1560px;top:1048.5px;width:54px;height:26px;border-radius:8px;background:#e9d6e8"></div>
<span class="t blue" style="left:1567.500px;top:1056.5px;font-size:10.600px">3 Vendu</span>
<svg class="abs" style="left:318px;top:980px" width="32" height="25" viewBox="318 980 32 25"><defs><linearGradient id="lb" x1="0" y1="0" x2="1" y2="1"><stop offset="0" stop-color="#6f7480"/><stop offset="1" stop-color="#bfc2cc"/></linearGradient></defs><path d="M319.200 995 330.900 991.900 344.100 997.500 330.900 1003.300z" fill="url(#lb)"/><path d="M333.800 981.800 348.800 983.600 344.200 997.600 330.700 992z" fill="#3a2a22"/><path d="M334.800 982.800 347.800 984.400 343.700 996.400 332 991.500z" fill="#ec7d12"/><path d="M334.800 982.800 336.600 983 333.600 992.200 332 991.500z" fill="#2f6fb3"/><path d="M335 990.500c3-1 6 1 9 2.500l-.4 1.500-9-3.700z" fill="#5a2a7a" opacity=".7"/></svg>
<svg class="abs" style="left:319px;top:1047px" width="30" height="30" viewBox="319 1047 30 30"><rect x="319" y="1047" width="30" height="30" fill="#eeeeee"/><rect x="324" y="1051" width="20" height="4.600" rx=".8" fill="#161616"/><rect x="326" y="1055.800" width="15.800" height="1" fill="#3a3a3a"/><rect x="326" y="1056.600" width="15.600" height="6.200" fill="#6f6f6f"/><rect x="327" y="1057.400" width="13.600" height="4.400" fill="#4d4d4d"/><rect x="325.300" y="1062.700" width="17.100" height="5" rx=".6" fill="#cfcfcb"/><rect x="331" y="1063.600" width="5.600" height="3" fill="#dcdcd8"/></svg>
<!--MAINEND-->

<!-- ============ SCROLLBAR ============ -->
<div class="abs" id="sb"></div>
<div class="abs" id="sbt"></div>
<svg class="abs" style="left:1908px;top:5px" width="9" height="6" viewBox="0 0 9 6"><path d="M4.500 1 8 5H1z" fill="#a3a3a3"/></svg>
<svg class="abs" style="left:1908px;top:1069px" width="9" height="6" viewBox="0 0 9 6"><path d="M4.500 5 8 1H1z" fill="#505050"/></svg>
</body>
</html>
